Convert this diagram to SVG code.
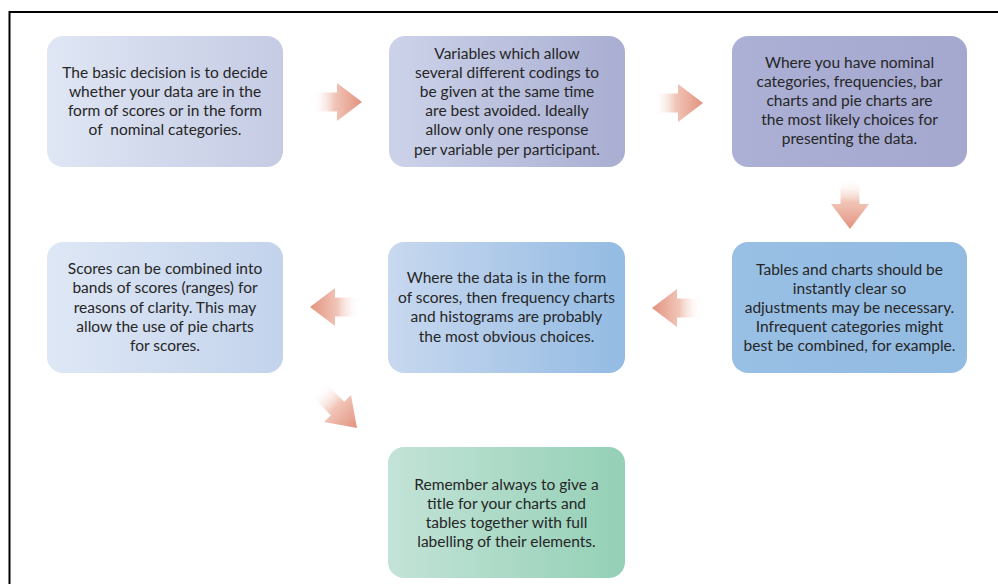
<svg xmlns="http://www.w3.org/2000/svg" width="998" height="584" viewBox="0 0 998 584">
  <style>
    .box text { font-family: "Lato", "Liberation Sans", sans-serif; font-size: 15.5px; fill: #262626; text-anchor: middle; }
    .frame { fill: none; stroke: #000; stroke-width: 2; }
  </style>
  <defs>
    <linearGradient id="g1" x1="0" y1="0" x2="1" y2="0">
      <stop offset="0" stop-color="#dfe6f4"/>
      <stop offset="1" stop-color="#c5cbe3"/>
    </linearGradient>
    <linearGradient id="g2" x1="0" y1="0" x2="1" y2="0">
      <stop offset="0" stop-color="#ccd3e9"/>
      <stop offset="1" stop-color="#a9aed2"/>
    </linearGradient>
    <linearGradient id="g3" x1="0" y1="0" x2="1" y2="0">
      <stop offset="0" stop-color="#acb0d5"/>
      <stop offset="1" stop-color="#a4a8cf"/>
    </linearGradient>
    <linearGradient id="g4" x1="0" y1="0" x2="1" y2="0">
      <stop offset="0" stop-color="#dee7f5"/>
      <stop offset="1" stop-color="#c3d3ec"/>
    </linearGradient>
    <linearGradient id="g5" x1="0" y1="0" x2="1" y2="0">
      <stop offset="0" stop-color="#c8d8ef"/>
      <stop offset="1" stop-color="#93bbe3"/>
    </linearGradient>
    <linearGradient id="g6" x1="0" y1="0" x2="1" y2="0">
      <stop offset="0" stop-color="#98bfe4"/>
      <stop offset="1" stop-color="#93bce3"/>
    </linearGradient>
    <linearGradient id="g7" x1="0" y1="0" x2="1" y2="0">
      <stop offset="0" stop-color="#c3e3d7"/>
      <stop offset="1" stop-color="#94d0b6"/>
    </linearGradient>
    <!-- block arrow, tip at the origin, pointing along +x -->
    <linearGradient id="arrowFill" gradientUnits="userSpaceOnUse" x1="-50" y1="0" x2="0" y2="0">
      <stop offset="0" stop-color="#ffffff" stop-opacity="0"/>
      <stop offset="0.45" stop-color="#f1c6b9"/>
      <stop offset="1" stop-color="#e3927e"/>
    </linearGradient>
    <path id="arrow" d="M-50,-9.5 L-25,-9.5 L-25,-19 L0,0 L-25,19 L-25,9.5 L-50,9.5 Z" fill="url(#arrowFill)"/>
  </defs>

  <rect width="998" height="584" fill="#ffffff"/>
  <path class="frame" d="M9.5,584 V12 H998"/>

  <g id="connectors">
    <use href="#arrow" transform="translate(362,102)"/>
    <use href="#arrow" transform="translate(703,103)"/>
    <use href="#arrow" transform="translate(850,229) rotate(90)"/>
    <use href="#arrow" transform="translate(652,308) rotate(180)"/>
    <use href="#arrow" transform="translate(310,307) rotate(180)"/>
    <use href="#arrow" transform="translate(357,428) rotate(45) scale(1.1,1)"/>
  </g>

  <g id="decide" class="box">
    <rect x="47" y="36" width="236" height="131" rx="16" fill="url(#g1)"/>
    <text x="165" y="78">The basic decision is to decide</text>
    <text x="165" y="97">whether your data are in the</text>
    <text x="165" y="116">form of scores or in the form</text>
    <text x="165" y="135" xml:space="preserve">of  nominal categories.</text>
  </g>

  <g id="codings" class="box">
    <rect x="389" y="36" width="236" height="131" rx="16" fill="url(#g2)"/>
    <text x="507" y="59">Variables which allow</text>
    <text x="507" y="78">several different codings to</text>
    <text x="507" y="97">be given at the same time</text>
    <text x="507" y="116">are best avoided. Ideally</text>
    <text x="507" y="135">allow only one response</text>
    <text x="507" y="155">per variable per participant.</text>
  </g>

  <g id="nominal" class="box">
    <rect x="732" y="36" width="235" height="131" rx="16" fill="url(#g3)"/>
    <text x="849.5" y="68">Where you have nominal</text>
    <text x="849.5" y="87">categories, frequencies, bar</text>
    <text x="849.5" y="106">charts and pie charts are</text>
    <text x="849.5" y="125">the most likely choices for</text>
    <text x="849.5" y="144">presenting the data.</text>
  </g>

  <g id="clarity" class="box">
    <rect x="732" y="242" width="235" height="131" rx="16" fill="url(#g6)"/>
    <text x="849.5" y="275">Tables and charts should be</text>
    <text x="849.5" y="294">instantly clear so</text>
    <text x="849.5" y="313">adjustments may be necessary.</text>
    <text x="849.5" y="332">Infrequent categories might</text>
    <text x="849.5" y="351">best be combined, for example.</text>
  </g>

  <g id="scores" class="box">
    <rect x="388" y="242" width="237" height="131" rx="16" fill="url(#g5)"/>
    <text x="506.5" y="283">Where the data is in the form</text>
    <text x="506.5" y="302.5">of scores, then frequency charts</text>
    <text x="506.5" y="322">and histograms are probably</text>
    <text x="506.5" y="342">the most obvious choices.</text>
  </g>

  <g id="bands" class="box">
    <rect x="47" y="242" width="236" height="131" rx="16" fill="url(#g4)"/>
    <text x="165" y="274">Scores can be combined into</text>
    <text x="165" y="293">bands of scores (ranges) for</text>
    <text x="165" y="312.5">reasons of clarity. This may</text>
    <text x="165" y="332">allow the use of pie charts</text>
    <text x="165" y="351">for scores.</text>
  </g>

  <g id="labelling" class="box">
    <rect x="388" y="447" width="237" height="131" rx="16" fill="url(#g7)"/>
    <text x="506.5" y="490">Remember always to give a</text>
    <text x="506.5" y="509">title for your charts and</text>
    <text x="506.5" y="528">tables together with full</text>
    <text x="506.5" y="547">labelling of their elements.</text>
  </g>
</svg>
